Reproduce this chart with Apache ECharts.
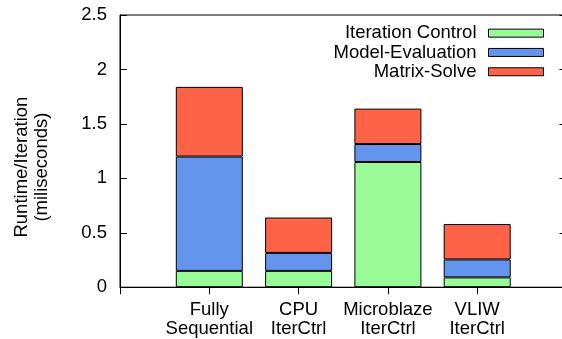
<!DOCTYPE html>
<html>
<head>
<meta charset="utf-8">
<script src="https://cdn.jsdelivr.net/npm/echarts@6/dist/echarts.min.js"></script>
<style>
html,body{margin:0;padding:0;background:#fff;overflow:hidden;width:562px;height:339px;}
#chart{width:572px;height:339px;}
</style>
</head>
<body>
<div id="chart"></div>
<script>
const categories = ['Fully\nSequential', 'CPU\nIterCtrl', 'Microblaze\nIterCtrl', 'VLIW\nIterCtrl'];
const iterationControl = [0.15, 0.15, 1.15, 0.09];
const modelEvaluation = [1.05, 0.165, 0.165, 0.165];
const matrixSolve = [0.64, 0.325, 0.325, 0.325];
const seriesNames = ['Iteration Control', 'Model-Evaluation', 'Matrix-Solve'];
const yTicks = [0, 0.5, 1, 1.5, 2, 2.5];

const FONT = 'Liberation Sans';
const FS = 18.5;
const pad = arr => ['-'].concat(arr, ['-']);
const axisCats = [''].concat(categories, ['']);
const colors = ['#98fb98', '#6495ed', '#ff6347'];
const values = [iterationControl, modelEvaluation, matrixSolve];

const chart = echarts.init(document.getElementById('chart'), null, {renderer: 'canvas'});
chart.setOption({
  animation: false,
  backgroundColor: '#fff',
  textStyle: {fontFamily: FONT, color: '#000'},
  grid: {left: 120, top: 15, bottom: 49, right: 5.5, show: true, borderColor: '#000', borderWidth: 1, backgroundColor: 'transparent'},
  legend: {
    data: seriesNames,
    orient: 'vertical',
    align: 'right',
    right: 28,
    top: 23.5,
    padding: 0,
    itemGap: 0,
    itemWidth: 55,
    itemHeight: 8,
    icon: 'rect',
    selectedMode: false,
    itemStyle: {borderColor: '#000', borderWidth: 1},
    textStyle: {fontFamily: FONT, fontSize: FS, color: '#000', lineHeight: 19.3, padding: [0, 7, 0, 0]}
  },
  xAxis: [{
    type: 'category',
    data: axisCats,
    boundaryGap: false,
    position: 'bottom',
    axisLine: {lineStyle: {color: '#000', width: 1}},
    axisTick: {show: false},
    axisLabel: {fontFamily: FONT, fontSize: FS, color: '#000', lineHeight: 19.4, margin: 13, interval: 0}
  }, {
    type: 'category',
    data: axisCats,
    boundaryGap: false,
    position: 'top',
    axisLine: {show: false},
    axisTick: {show: true, inside: true, length: 7, lineStyle: {color: '#000'}},
    axisLabel: {show: false}
  }],
  yAxis: [{
    type: 'value',
    min: yTicks[0],
    max: yTicks[yTicks.length - 1],
    interval: 0.5,
    position: 'left',
    name: 'Runtime/Iteration\n(miliseconds)',
    nameLocation: 'middle',
    nameGap: 68,
    nameTextStyle: {fontFamily: FONT, fontSize: FS, color: '#000', lineHeight: 20, padding: [0, 32, 0, 0]},
    axisLine: {show: true, lineStyle: {color: '#000'}},
    axisTick: {show: true, inside: true, length: 7, lineStyle: {color: '#000'}},
    axisLabel: {fontFamily: FONT, fontSize: FS, color: '#000', margin: 13},
    splitLine: {show: false}
  }, {
    type: 'value',
    min: yTicks[0],
    max: yTicks[yTicks.length - 1],
    interval: 0.5,
    position: 'right',
    axisLine: {show: false},
    axisTick: {show: true, inside: true, length: 7, lineStyle: {color: '#000'}},
    axisLabel: {show: false},
    splitLine: {show: false}
  }],
  series: seriesNames.map((name, i) => ({
    name: name,
    type: 'bar',
    stack: 'total',
    barWidth: 67,
    data: pad(values[i]),
    itemStyle: {color: colors[i], borderColor: '#000', borderWidth: 1},
    emphasis: {disabled: true}
  }))
});
</script>
</body>
</html>
